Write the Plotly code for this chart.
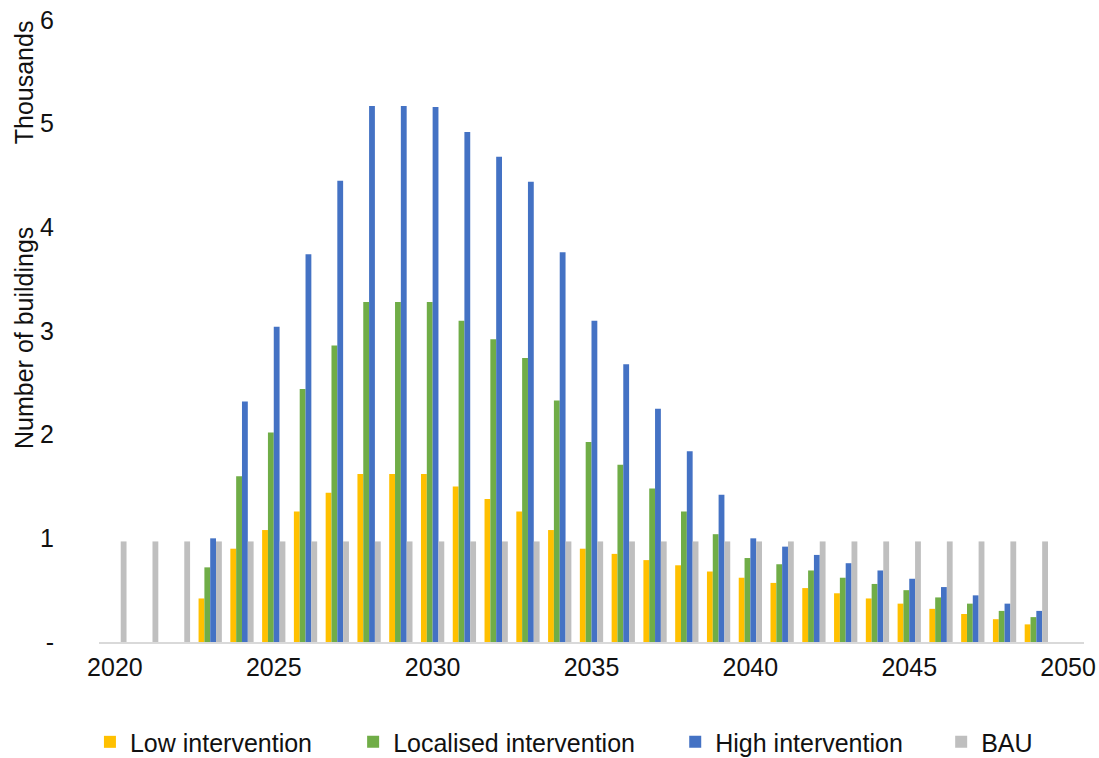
import plotly.graph_objects as go

# Retrofit rollout by scenario (thousands of buildings per year)
years = list(range(2020, 2050))

low_intervention = [None, None, None,
                    0.42, 0.90, 1.08, 1.26, 1.44, 1.62, 1.62, 1.62, 1.50, 1.38, 1.26,
                    1.08, 0.90, 0.85, 0.79, 0.74, 0.68, 0.62, 0.57, 0.52, 0.47,
                    0.42, 0.37, 0.32, 0.27, 0.22, 0.17]

localised_intervention = [None, None, None,
                          0.72, 1.60, 2.02, 2.44, 2.86, 3.28, 3.28, 3.28, 3.10, 2.92, 2.74,
                          2.33, 1.93, 1.71, 1.48, 1.26, 1.04, 0.81, 0.75, 0.69, 0.62,
                          0.56, 0.50, 0.43, 0.37, 0.30, 0.24]

high_intervention = [None, None, None,
                     1.00, 2.32, 3.04, 3.74, 4.45, 5.17, 5.17, 5.16, 4.92, 4.68, 4.44,
                     3.76, 3.10, 2.68, 2.25, 1.84, 1.42, 1.00, 0.92, 0.84, 0.76,
                     0.69, 0.61, 0.53, 0.45, 0.37, 0.30]

bau = [0.97] * 30

series = [
    ("Low intervention", low_intervention, "#FFC000"),
    ("Localised intervention", localised_intervention, "#70AD47"),
    ("High intervention", high_intervention, "#4472C4"),
    ("BAU", bau, "#BFBFBF"),
]

x_ticks = [2020, 2025, 2030, 2035, 2040, 2045, 2050]
y_ticks = [0, 1, 2, 3, 4, 5, 6]
y_tick_text = ["-", "1", "2", "3", "4", "5", "6"]

FONT = "Liberation Sans, Arial, sans-serif"
TEXT_COLOR = "#111111"
FS = 25

# one legend box per series so the entries sit along the bottom row
legend_ids = ["legend", "legend2", "legend3", "legend4"]
legend_x = [-0.0092, 0.258, 0.585, 0.855]

fig = go.Figure()
for (name, values, color), lid in zip(series, legend_ids):
    fig.add_trace(go.Bar(
        x=years, y=values, name=name, legend=lid,
        marker=dict(color=color, line=dict(width=0)),
    ))

layout_legends = {}
for lid, lx in zip(legend_ids, legend_x):
    layout_legends[lid] = dict(
        orientation="h", x=lx, xanchor="left", xref="paper",
        y=0.021, yanchor="middle", yref="container",
        font=dict(size=FS, color=TEXT_COLOR), bgcolor="rgba(0,0,0,0)",
    )

fig.update_layout(
    width=1099, height=758,
    barmode="group", bargap=0.267, bargroupgap=0,
    plot_bgcolor="white", paper_bgcolor="white",
    margin=dict(l=99, r=15, t=20, b=116, autoexpand=False),
    font=dict(family=FONT, size=FS, color=TEXT_COLOR),
    showlegend=True,
    **layout_legends,
)

fig.update_xaxes(
    range=[2019.5, 2050.5], tickvals=x_ticks, showgrid=False, zeroline=False,
    showline=True, linecolor="#D9D9D9", linewidth=1.5, ticks="",
    tickfont=dict(size=FS), ticklabelstandoff=2,
)
fig.update_yaxes(
    range=[0, 6], tickvals=y_ticks, ticktext=y_tick_text, showgrid=False,
    zeroline=False, showline=False, ticks="", tickfont=dict(size=FS),
    ticklabelstandoff=44,
)

fig.add_annotation(
    text="Number of buildings", textangle=-90, xref="paper", yref="paper",
    x=-0.076, y=0.489, xanchor="center", yanchor="middle", showarrow=False,
    font=dict(size=FS),
)
fig.add_annotation(
    text="Thousands", textangle=-90, xref="paper", yref="paper",
    x=-0.076, y=1.003, xanchor="center", yanchor="top", showarrow=False,
    font=dict(size=FS),
)

fig.write_html("out.html")
